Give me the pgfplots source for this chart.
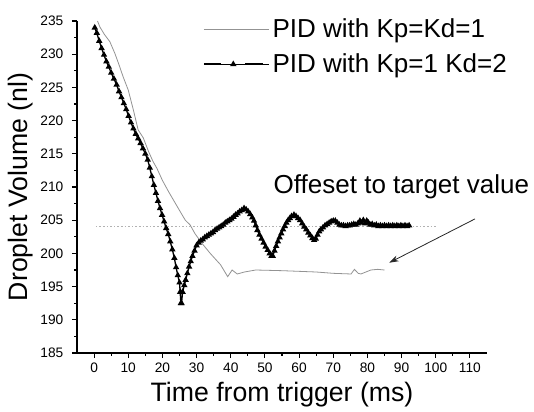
\documentclass[border=0pt]{standalone}
\usepackage{pgfplots}
\pgfplotsset{compat=1.18}
\usepackage{fontspec}
\setmainfont{Liberation Sans}
\usetikzlibrary{arrows.meta}
\begin{document}
\begin{tikzpicture}
\path[use as bounding box] (-57.75pt,-43.5pt) rectangle (342.75pt,264.75pt);
\begin{axis}[
  scale only axis,
  width=307.5pt, height=249pt,
  xmin=-5, xmax=115, ymin=185, ymax=235,
  axis x line*=bottom, axis y line*=left,
  axis line style={-, line width=1pt, black},
  xtick={0,10,...,110}, ytick={185,190,...,235},
  minor x tick num=1, minor y tick num=1,
  tick align=outside,
  major tick length=3.75pt, minor tick length=2pt,
  every tick/.style={black, line width=0.8pt},
  /pgf/number format/assume math mode=true,
  tick label style={font=\fontsize{10.3}{12}\selectfont},
  yticklabel style={xshift=-3pt},
  xlabel={Time from trigger (ms)},
  ylabel={Droplet Volume (nl)},
  xlabel style={font=\fontsize{20}{24}\selectfont, at={(axis description cs:0.5,-0.125)}, anchor=center},
  ylabel style={font=\fontsize{20}{24}\selectfont, at={(axis description cs:-0.137,0.5)}, anchor=center},
  clip=false,
  legend style={at={(axis description cs:0.307,1.015)}, anchor=north west, draw=none, fill=none,
    font=\fontsize{19.5}{23}\selectfont, row sep=6.5pt, inner sep=0pt},
  legend cell align=left,
]
\addplot[gray!85, line width=0.6pt,
  legend image code/.code={\draw[gray!85, line width=0.6pt] (0pt,0pt) -- (44pt,0pt); \path (0pt,0pt) -- (49pt,0pt);}]
coordinates {
(1.0,235.0) (1.7,234.1) (3.0,233.0) (4.6,231.9) (6.1,230.1) (7.3,228.4) (8.5,226.6) (10.0,224.6)
(11.5,221.6) (12.9,218.6) (14.4,217.4) (15.9,215.4) (17.2,213.9) (18.4,212.8) (20.0,211.0)
(21.8,209.3) (23.5,207.8) (25.2,206.3) (26.7,205.0) (28.1,204.3) (29.5,203.0) (31.6,201.5)
(34.0,200.0) (37.0,198.3) (39.1,196.5) (40.4,197.5) (41.9,196.9) (44.0,197.2) (47.3,197.5)
(55.0,197.4) (65.0,197.2) (70.0,197.0) (75.2,196.9) (76.2,197.6) (77.3,197.0) (78.1,196.9)
(81.0,197.5) (83.0,197.6) (85.0,197.5)
};
\addlegendentry{PID with Kp=Kd=1}
\addplot[black, line width=1pt, mark=triangle*, mark size=1.8pt,
  legend image code/.code={
    \draw[black, line width=1.2pt] (0pt,0pt) -- (13pt,0pt);
    \draw[black, line width=1.2pt] (31pt,0pt) -- (44pt,0pt);
    \fill[black] (22pt,1.8pt) -- (20.4pt,-1pt) -- (23.6pt,-1pt) -- cycle;
    \path (0pt,0pt) -- (49pt,0pt);}]
coordinates {
(0.2,234.0) (0.8,233.2) (1.5,232.0) (2.2,230.9) (2.9,229.9) (3.6,228.9) (4.3,228.1) (5.0,227.2)
(5.8,226.3) (6.6,225.4) (7.3,224.4) (8.0,223.5) (8.7,222.6) (9.4,221.7) (10.1,220.7) (10.8,219.7)
(11.5,218.8) (12.2,218.0) (12.9,217.3) (13.6,216.6) (14.3,215.8) (15.0,215.0) (15.7,214.1)
(16.3,212.9) (16.9,211.6) (17.5,210.3) (18.1,209.1) (18.7,207.9) (19.3,206.8) (19.9,205.8)
(20.5,204.8) (21.1,203.8) (21.7,202.9) (22.3,201.8) (22.9,200.6) (23.5,199.3) (24.0,197.9)
(24.5,196.7) (25.0,195.6) (25.2,194.2) (25.4,192.5) (25.6,192.5) (25.9,194.2) (26.4,195.2)
(26.8,196.0) (27.3,197.0) (27.8,198.0) (28.3,198.8) (28.8,199.6) (29.4,200.4) (30.0,201.2)
(30.6,201.6) (31.2,201.9) (31.8,202.1) (32.4,202.4) (33.0,202.6) (33.6,202.8) (34.2,203.0)
(34.8,203.2) (35.4,203.5) (36.0,203.7) (36.6,203.9) (37.2,204.1) (37.8,204.3) (38.4,204.6)
(39.0,204.8) (39.6,205.0) (40.2,205.2) (40.8,205.5) (41.4,205.8) (42.0,206.0) (42.6,206.3)
(43.2,206.5) (43.9,206.8) (44.5,206.6) (45.1,206.3) (45.7,205.9) (46.3,205.4) (46.8,204.9)
(47.3,204.2) (47.8,203.5) (48.4,202.8) (49.0,202.2) (49.6,201.6) (50.2,201.0) (50.8,200.5)
(51.4,200.0) (51.9,199.6) (52.3,199.6) (52.8,200.4) (53.3,201.1) (53.8,201.8) (54.3,202.4)
(54.8,203.0) (55.3,203.6) (55.8,204.1) (56.3,204.6) (56.8,205.0) (57.3,205.3) (57.8,205.6)
(58.5,205.8) (59.1,205.6) (59.7,205.3) (60.3,205.0) (60.9,204.5) (61.5,204.0) (62.1,203.6)
(62.7,203.1) (63.3,202.7) (63.9,202.3) (64.4,202.0) (64.9,202.2) (65.4,202.8) (65.9,203.3)
(66.4,203.6) (67.0,203.9) (67.6,204.2) (68.2,204.4) (68.8,204.6) (69.4,204.8) (70.0,204.9)
(70.6,204.9) (71.2,204.6) (71.8,204.3) (72.4,204.2) (73.0,204.2) (73.6,204.1) (74.2,204.2)
(74.8,204.2) (75.4,204.3) (76.0,204.4) (76.6,204.3) (77.2,204.5) (77.8,204.9) (78.3,204.6)
(78.8,205.0) (79.3,204.5) (79.8,204.9) (80.3,204.6) (80.8,204.3) (81.4,204.4) (82.0,204.2)
(82.6,204.3) (83.2,204.1) (83.8,204.2) (84.4,204.1) (85.0,204.2) (85.6,204.1) (86.2,204.2)
(86.8,204.1) (87.4,204.2) (88.0,204.1) (88.6,204.2) (89.2,204.1) (89.8,204.2) (90.4,204.1)
(91.0,204.2) (91.6,204.1) (92.2,204.2)
};
\addlegendentry{PID with Kp=1 Kd=2}
\addplot[gray!60, line width=0.8pt, dash pattern=on 1.2pt off 1.5pt, forget plot]
coordinates {(0.5,204) (100,204)};
\draw[-{Stealth[length=7pt,width=4.5pt]}, line width=0.6pt, black!85]
  (axis cs:111.5,205.2) -- (axis cs:86.4,198.6);
\node[anchor=base west, inner sep=0pt, font=\fontsize{19.5}{23}\selectfont]
  at (axis cs:52.5,209.05) {Offeset to target value};
\end{axis}
\end{tikzpicture}
\end{document}
